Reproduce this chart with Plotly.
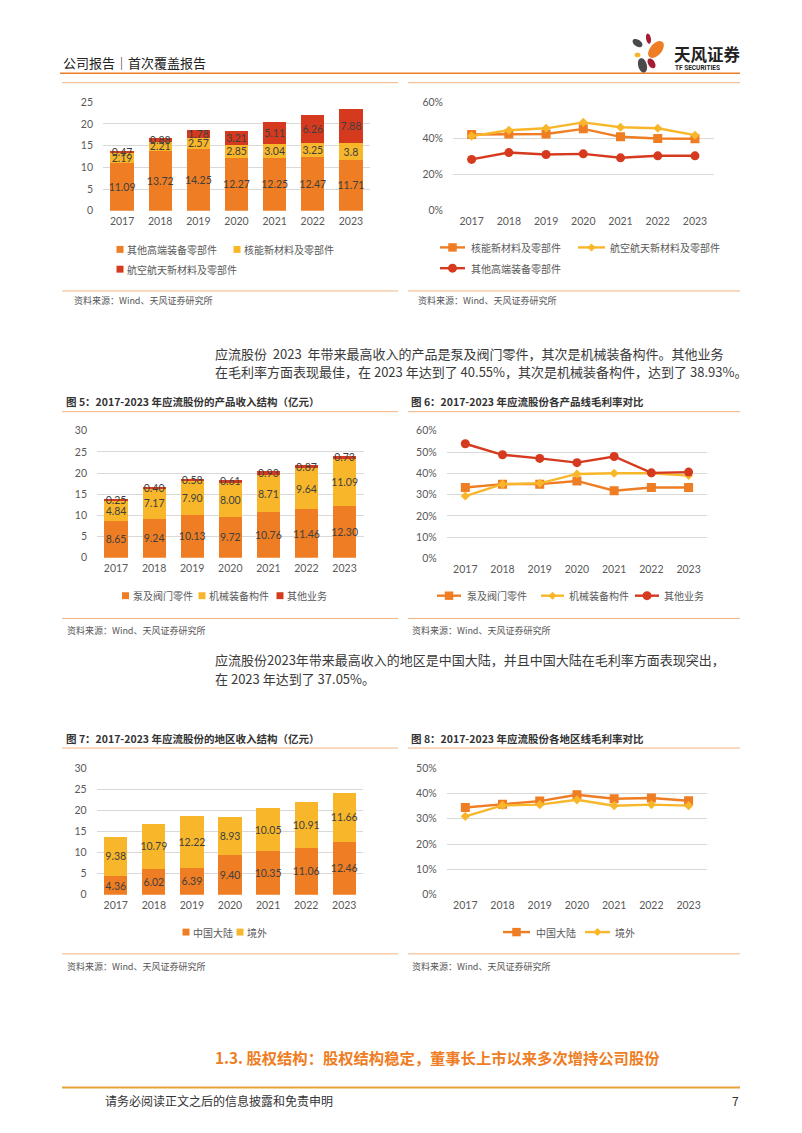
import math
import plotly.graph_objects as go

W, H = 802, 1133
FONT = "Lato, Noto Sans CJK SC"
CJK = "Noto Sans CJK SC"
ORANGE = "#EE7D23"
YELLOW = "#F8B72A"
RED = "#D63A1E"
LABEL = "#3F3F3F"
TICK = "#595959"
GRID = "#D9D9D9"

years = ["2017", "2018", "2019", "2020", "2021", "2022", "2023"]

# Chart (top-left): revenue by segment (亿元)
c1_other = [11.09, 13.72, 14.25, 12.27, 12.25, 12.47, 11.71]
c1_nuclear = [2.19, 2.21, 2.57, 2.85, 3.04, 3.25, 3.8]
c1_aero = [0.47, 0.88, 1.78, 3.21, 5.11, 6.26, 7.88]
c1_names = ["其他高端装备零部件", "核能新材料及零部件", "航空航天新材料及零部件"]

# Chart (top-right): gross margin by segment (%)
c2_nuclear = [42.2, 42.5, 42.5, 45.3, 40.9, 40.0, 39.8]
c2_aero = [41.3, 44.5, 45.6, 48.9, 46.2, 45.6, 41.8]
c2_other = [28.4, 32.2, 31.1, 31.5, 29.3, 30.4, 30.4]
c2_names = ["核能新材料及零部件", "航空航天新材料及零部件", "其他高端装备零部件"]

# Fig 5: revenue by product (亿元)
c5_pump = [8.65, 9.24, 10.13, 9.72, 10.76, 11.46, 12.30]
c5_mech = [4.84, 7.17, 7.90, 8.00, 8.71, 9.64, 11.09]
c5_other = [0.25, 0.40, 0.58, 0.61, 0.93, 0.87, 0.73]
c5_names = ["泵及阀门零件", "机械装备构件", "其他业务"]

# Fig 6: gross margin by product (%)
c6_pump = [33.3, 34.9, 34.9, 36.4, 31.8, 33.3, 33.3]
c6_mech = [29.3, 34.9, 35.3, 39.7, 40.0, 40.0, 38.93]
c6_other = [53.9, 48.7, 47.0, 45.0, 47.9, 40.2, 40.55]

# Fig 7: revenue by region (亿元)
c7_cn = [4.36, 6.02, 6.39, 9.40, 10.35, 11.06, 12.46]
c7_abroad = [9.38, 10.79, 12.22, 8.93, 10.05, 10.91, 11.66]
c7_names = ["中国大陆", "境外"]

# Fig 8: gross margin by region (%)
c8_cn = [34.4, 35.7, 36.9, 39.4, 37.8, 38.1, 37.05]
c8_abroad = [30.9, 35.2, 35.5, 37.4, 35.1, 35.5, 35.1]


def px(x):
    return x / W


def py(y):
    return 1 - y / H


fig = go.Figure()


def add_bar(y, name, color, ax, fmt):
    fig.add_trace(go.Bar(
        x=years, y=y, name=name, marker=dict(color=color, line=dict(width=0)),
        texttemplate=fmt, textposition="inside", insidetextanchor="middle",
        constraintext="none", textangle=0,
        insidetextfont=dict(size=10.5, color=LABEL, family=FONT),
        xaxis="x" + ax, yaxis="y" + ax, showlegend=False, hoverinfo="skip"))


def add_line(y, name, color, symbol, size, ax):
    fig.add_trace(go.Scatter(
        x=years, y=y, name=name, mode="lines+markers",
        line=dict(color=color, width=2.4),
        marker=dict(symbol=symbol, size=size, color=color),
        xaxis="x" + ax, yaxis="y" + ax, showlegend=False, hoverinfo="skip"))


# chart 1
add_bar(c1_other, c1_names[0], ORANGE, "", "%{y}")
add_bar(c1_nuclear, c1_names[1], YELLOW, "", "%{y}")
add_bar(c1_aero, c1_names[2], RED, "", "%{y}")
# chart 2
add_line(c2_nuclear, c2_names[0], ORANGE, "square", 9, "2")
add_line(c2_aero, c2_names[1], YELLOW, "diamond", 7, "2")
add_line(c2_other, c2_names[2], RED, "circle", 9, "2")
# chart 5
add_bar(c5_pump, c5_names[0], ORANGE, "3", "%{y:.2f}")
add_bar(c5_mech, c5_names[1], YELLOW, "3", "%{y:.2f}")
add_bar(c5_other, c5_names[2], RED, "3", "%{y:.2f}")
# chart 6
add_line(c6_pump, c5_names[0], ORANGE, "square", 9, "4")
add_line(c6_mech, c5_names[1], YELLOW, "diamond", 7, "4")
add_line(c6_other, c5_names[2], RED, "circle", 9, "4")
# chart 7
add_bar(c7_cn, c7_names[0], ORANGE, "5", "%{y:.2f}")
add_bar(c7_abroad, c7_names[1], YELLOW, "5", "%{y:.2f}")
# chart 8
add_line(c8_cn, c7_names[0], ORANGE, "square", 9, "6")
add_line(c8_abroad, c7_names[1], YELLOW, "diamond", 7, "6")

tickfont = dict(size=10.5, color=TICK, family=FONT)


def xaxis(x0, x1, anchor):
    return dict(domain=[px(x0), px(x1)], anchor=anchor, type="category",
                range=[-0.5, 6.5], showgrid=False, showline=False, ticks="",
                zeroline=False, tickfont=tickfont, ticklabelstandoff=3,
                fixedrange=True)


def yaxis(y0, y1, anchor, rmax, dtick, suffix=""):
    return dict(domain=[py(y1), py(y0)], anchor=anchor, range=[0, rmax],
                dtick=dtick, showgrid=True, gridcolor=GRID, gridwidth=1,
                showline=False, zeroline=False, ticks="", ticksuffix=suffix,
                tickfont=tickfont, ticklabelstandoff=9, fixedrange=True)


fig.update_layout(
    width=W, height=H, margin=dict(l=0, r=0, t=0, b=0),
    paper_bgcolor="white", plot_bgcolor="white", showlegend=False,
    barmode="stack", bargap=0.39,
    font=dict(family=FONT, color=TICK),
    xaxis=xaxis(103, 370, "y"), yaxis=yaxis(97.3, 207, "x", 25, 5),
    xaxis2=xaxis(453, 713.6, "y2"), yaxis2=yaxis(97.3, 207, "x2", 60, 20, "%"),
    xaxis3=xaxis(97, 363.6, "y3"), yaxis3=yaxis(429.3, 557.7, "x3", 30, 5),
    xaxis4=xaxis(446.7, 707.2, "y4"), yaxis4=yaxis(429.3, 558.3, "x4", 60, 10, "%"),
    xaxis5=xaxis(96.7, 363.3, "y5"), yaxis5=yaxis(770, 898.3, "x5", 30, 5),
    xaxis6=xaxis(446.7, 707.2, "y6"), yaxis6=yaxis(770, 898.3, "x6", 50, 10, "%"),
)

# ---------- page text ----------
ann = []
shapes = []


def text(x, y, s, size, color="#333333", bold=False, anchor="left", family=CJK):
    if bold:
        s = "<b>" + s + "</b>"
    ann.append(dict(x=px(x), y=py(y), xref="paper", yref="paper", text=s,
                    showarrow=False, xanchor=anchor, yanchor="middle",
                    font=dict(size=size, color=color, family=family)))


def hline(x0, x1, y, color, width):
    shapes.append(dict(type="line", xref="paper", yref="paper",
                       x0=px(x0), x1=px(x1), y0=py(y), y1=py(y),
                       line=dict(color=color, width=width)))


def rect(cx, cy, s, color):
    shapes.append(dict(type="rect", xref="paper", yref="paper",
                       x0=px(cx - s / 2), x1=px(cx + s / 2),
                       y0=py(cy + s / 2), y1=py(cy - s / 2),
                       fillcolor=color, line=dict(width=0)))


def circ(cx, cy, r, color):
    shapes.append(dict(type="circle", xref="paper", yref="paper",
                       x0=px(cx - r), x1=px(cx + r),
                       y0=py(cy + r), y1=py(cy - r),
                       fillcolor=color, line=dict(width=0)))


def diamond(cx, cy, r, color):
    path = "M%.5f,%.5f L%.5f,%.5f L%.5f,%.5f L%.5f,%.5f Z" % (
        px(cx), py(cy - r), px(cx + r), py(cy), px(cx), py(cy + r), px(cx - r), py(cy))
    shapes.append(dict(type="path", xref="paper", yref="paper", path=path,
                       fillcolor=color, line=dict(width=0)))


LEGF = 10


def bar_legend(sx, tx, y, name, color):
    rect(sx, y, 7, color)
    text(tx, y, name, LEGF, TICK)


def line_legend(x0, x1, tx, y, name, color, kind):
    hline(x0, x1, y, color, 2.4)
    cx = (x0 + x1) / 2
    if kind == "square":
        rect(cx, y, 8.5, color)
    elif kind == "circle":
        circ(cx, y, 4.5, color)
    else:
        diamond(cx, y, 4, color)
    text(tx, y, name, LEGF, TICK)


# legends
bar_legend(120, 125, 246, c1_names[0], ORANGE)
bar_legend(237, 242, 246, c1_names[1], YELLOW)
bar_legend(120, 125, 266, c1_names[2], RED)

line_legend(440, 465, 469, 244, c2_names[0], ORANGE, "square")
line_legend(578, 605, 608, 244, c2_names[1], YELLOW, "diamond")
line_legend(440, 465, 469, 265, c2_names[2], RED, "circle")

bar_legend(125.5, 130.5, 596, c5_names[0], ORANGE)
bar_legend(202, 207, 596, c5_names[1], YELLOW)
bar_legend(280, 285, 596, c5_names[2], RED)

line_legend(437, 461, 465, 596, c5_names[0], ORANGE, "square")
line_legend(541, 564, 567, 596, c5_names[1], YELLOW, "diamond")
line_legend(635, 659, 662, 596, c5_names[2], RED, "circle")

bar_legend(186, 191, 936, c7_names[0], ORANGE)
bar_legend(240, 245, 936, c7_names[1], YELLOW)

line_legend(503, 530, 534, 936, c7_names[0], ORANGE, "square")
line_legend(585, 610, 613, 936, c7_names[1], YELLOW, "diamond")

text(61, 57, "公司报告｜首次覆盖报告", 13, "#222222")
text(672, 49, "天风证券", 16.5, "#222222", bold=True)
text(673, 63, "TF SECURITIES", 6.5, "#222222", bold=True, family="Roboto")

src = "资料来源：Wind、天风证券研究所"
text(72, 298, src, 9, "#555555")
text(416, 298, src, 9, "#555555")

PARA = 13
text(213, 351, "应流股份  2023  年带来最高收入的产品是泵及阀门零件，其次是机械装备构件。其他业务", PARA, "#3a3a3a")
text(213, 369, "在毛利率方面表现最佳，在 2023 年达到了 40.55%，其次是机械装备构件，达到了 38.93%。", PARA, "#3a3a3a")

text(64, 400, "图 5：2017-2023 年应流股份的产品收入结构（亿元）", 10.5, "#333333", bold=True)
text(409, 400, "图 6：2017-2023 年应流股份各产品线毛利率对比", 10.5, "#333333", bold=True)
text(65, 631, src, 9, "#555555")
text(410, 631, src, 9, "#555555")

text(213, 661, "应流股份2023年带来最高收入的地区是中国大陆，并且中国大陆在毛利率方面表现突出，", PARA, "#3a3a3a")
text(213, 680, "在 2023 年达到了 37.05%。", PARA, "#3a3a3a")

text(64, 740, "图 7：2017-2023 年应流股份的地区收入结构（亿元）", 10.5, "#333333", bold=True)
text(409, 740, "图 8：2017-2023 年应流股份各地区线毛利率对比", 10.5, "#333333", bold=True)
text(65, 971, src, 9, "#555555")
text(410, 971, src, 9, "#555555")

text(213, 1062, "1.3. 股权结构：股权结构稳定，董事长上市以来多次增持公司股份", 15.3, ORANGE, bold=True)
text(103, 1106, "请务必阅读正文之后的信息披露和免责申明", 12, "#333333")
text(741, 1106, "7", 12, "#333333", anchor="right")

# ---------- rules and logo ----------
LIGHT = "#F2B482"
hline(60, 740, 68, ORANGE, 1.6)
for yy in (77.5, 288, 410, 619, 750, 958):
    hline(62, 398, yy, LIGHT, 1)
    hline(408, 740, yy, LIGHT, 1)
hline(62, 740, 1093, "#E9A23B", 2)


def petal(cx, cy, a, b, ang, color):
    t = math.radians(ang)
    pts = []
    for k in range(24):
        u = 2 * math.pi * k / 24
        ex, ey = a * math.cos(u), b * math.sin(u)
        x = cx + ex * math.cos(t) - ey * math.sin(t)
        y = cy + ex * math.sin(t) + ey * math.cos(t)
        pts.append("%.5f,%.5f" % (px(x), py(y)))
    path = "M" + " L".join(pts) + " Z"
    shapes.append(dict(type="path", xref="paper", yref="paper", path=path,
                       fillcolor=color, line=dict(width=0)))


petal(637.5, 37.5, 5.5, 3.4, 35, "#4A4A4A")
petal(648.5, 33.0, 5.2, 2.4, 80, "#A31D33")
petal(656.0, 44.0, 10.0, 5.8, -50, ORANGE)
petal(637.5, 49.5, 3.0, 2.4, 0, "#F7B52C")
petal(642.5, 60.0, 7.5, 4.3, 75, "#4A4A4A")
petal(651.5, 58.0, 5.5, 3.3, 60, "#A31D33")

fig.update_layout(annotations=ann, shapes=shapes)

fig.write_html("out.html")
